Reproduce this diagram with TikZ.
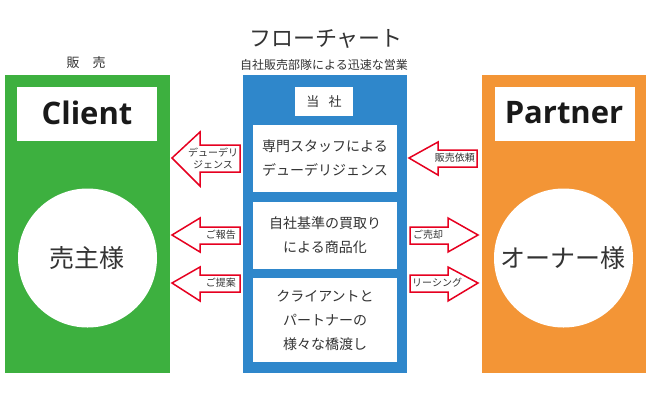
\documentclass[tikz,border=0pt]{standalone}
\usepackage{fontspec}
\setmainfont{Noto Sans CJK JP}[Scale=1]
\newfontfamily\latinbold{Open Sans}
\definecolor{cgreen}{HTML}{3DB03F}
\definecolor{cblue}{HTML}{2F87CB}
\definecolor{corange}{HTML}{F39536}
\definecolor{cred}{HTML}{E60020}
\definecolor{ctext}{HTML}{333333}
\tikzset{
  x=1pt,y=-1pt,
  panel/.style={fill=#1,draw=none},
  whitebox/.style={fill=white,draw=none},
  flowarrow/.style={draw=cred,fill=white,line width=1.5pt,miter limit=10},
  lbl/.style={text=ctext,inner sep=0pt,align=center,font=\fontsize{#1}{#1}\selectfont},
  lbl/.default=14,
  logo/.style={text=black!90,inner sep=0pt,font=\latinbold\bfseries\fontsize{31}{31}\selectfont},
  boxlbl/.style={text=ctext,inner sep=0pt,align=center,font=\fontsize{14}{24}\selectfont},
  arrowlbl/.style={text=ctext,inner sep=0pt,align=center,font=\fontsize{10}{12}\selectfont},
}
\begin{document}
\begin{tikzpicture}
\useasboundingbox (0,0) rectangle (650,400);
\fill[white] (0,0) rectangle (650,400);
% panels
\fill[panel=cgreen] (5,75) rectangle (170,373);
\fill[panel=cblue] (243,75) rectangle (407,373);
\fill[panel=corange] (482,75) rectangle (646,373);
% titles
\node[lbl=22] (title) at (326,39) {フローチャート};
\node[lbl=12] (subtitle) at (324,65) {自社販売部隊による迅速な営業};
\node[lbl=13] (hanbai) at (86,63) {販\hspace{1em}売};
% client
\fill[whitebox] (17,87) rectangle (157,141);
\node[logo] (client) at (87,113) {Client};
\fill[whitebox] (87.5,258) circle (69.5);
\node[lbl=25] (seller) at (87,258) {売主様};
% partner
\fill[whitebox] (495,87) rectangle (635,141);
\node[logo] (partner) at (564,113) {Partner};
\fill[whitebox] (563.5,258) circle (69.5);
\node[lbl=25] (owner) at (563,258) {オーナー様};
% centre
\fill[whitebox] (295,87) rectangle (353,116);
\node[lbl=13] (tosha) at (324,102) {当\hspace{0.7em}社};
\fill[whitebox] (253,125) rectangle (397,192);
\node[boxlbl] (b1) at (325,158) {専門スタッフによる\\デューデリジェンス};
\fill[whitebox] (253,202) rectangle (397,269);
\node[boxlbl] (b2) at (325,235) {自社基準の買取り\\による商品化};
\fill[whitebox] (253,278) rectangle (397,362);
\node[boxlbl] (b3) at (325,320) {クライアントと\\パートナーの\\様々な橋渡し};
% arrows
\draw[flowarrow] (172,158) -- (200,132) -- (200,145) -- (240,145) -- (240,172) -- (200,172) -- (200,186) -- cycle;
\node[arrowlbl] (a1) at (213,158) {デューデリ\\ジェンス};
\draw[flowarrow] (172,235) -- (200,218) -- (200,227) -- (240,227) -- (240,244) -- (200,244) -- (200,252) -- cycle;
\node[arrowlbl,anchor=east] (a2) at (236,235) {ご報告};
\draw[flowarrow] (172,283) -- (200,267) -- (200,275) -- (240,275) -- (240,292) -- (200,292) -- (200,301) -- cycle;
\node[arrowlbl,anchor=east] (a3) at (236,283) {ご提案};
\draw[flowarrow] (409,158) -- (438,142) -- (438,150) -- (477,150) -- (477,167) -- (438,167) -- (438,175) -- cycle;
\node[arrowlbl,anchor=east] (a4) at (475,158) {販売依頼};
\draw[flowarrow] (478,235) -- (448,218) -- (448,227) -- (410,227) -- (410,244) -- (448,244) -- (448,252) -- cycle;
\node[arrowlbl,anchor=west] (a5) at (413,235) {ご売却};
\draw[flowarrow] (478,283) -- (448,267) -- (448,275) -- (410,275) -- (410,292) -- (448,292) -- (448,301) -- cycle;
\node[arrowlbl,anchor=west] (a6) at (412,283) {リーシング};
\end{tikzpicture}
\end{document}
